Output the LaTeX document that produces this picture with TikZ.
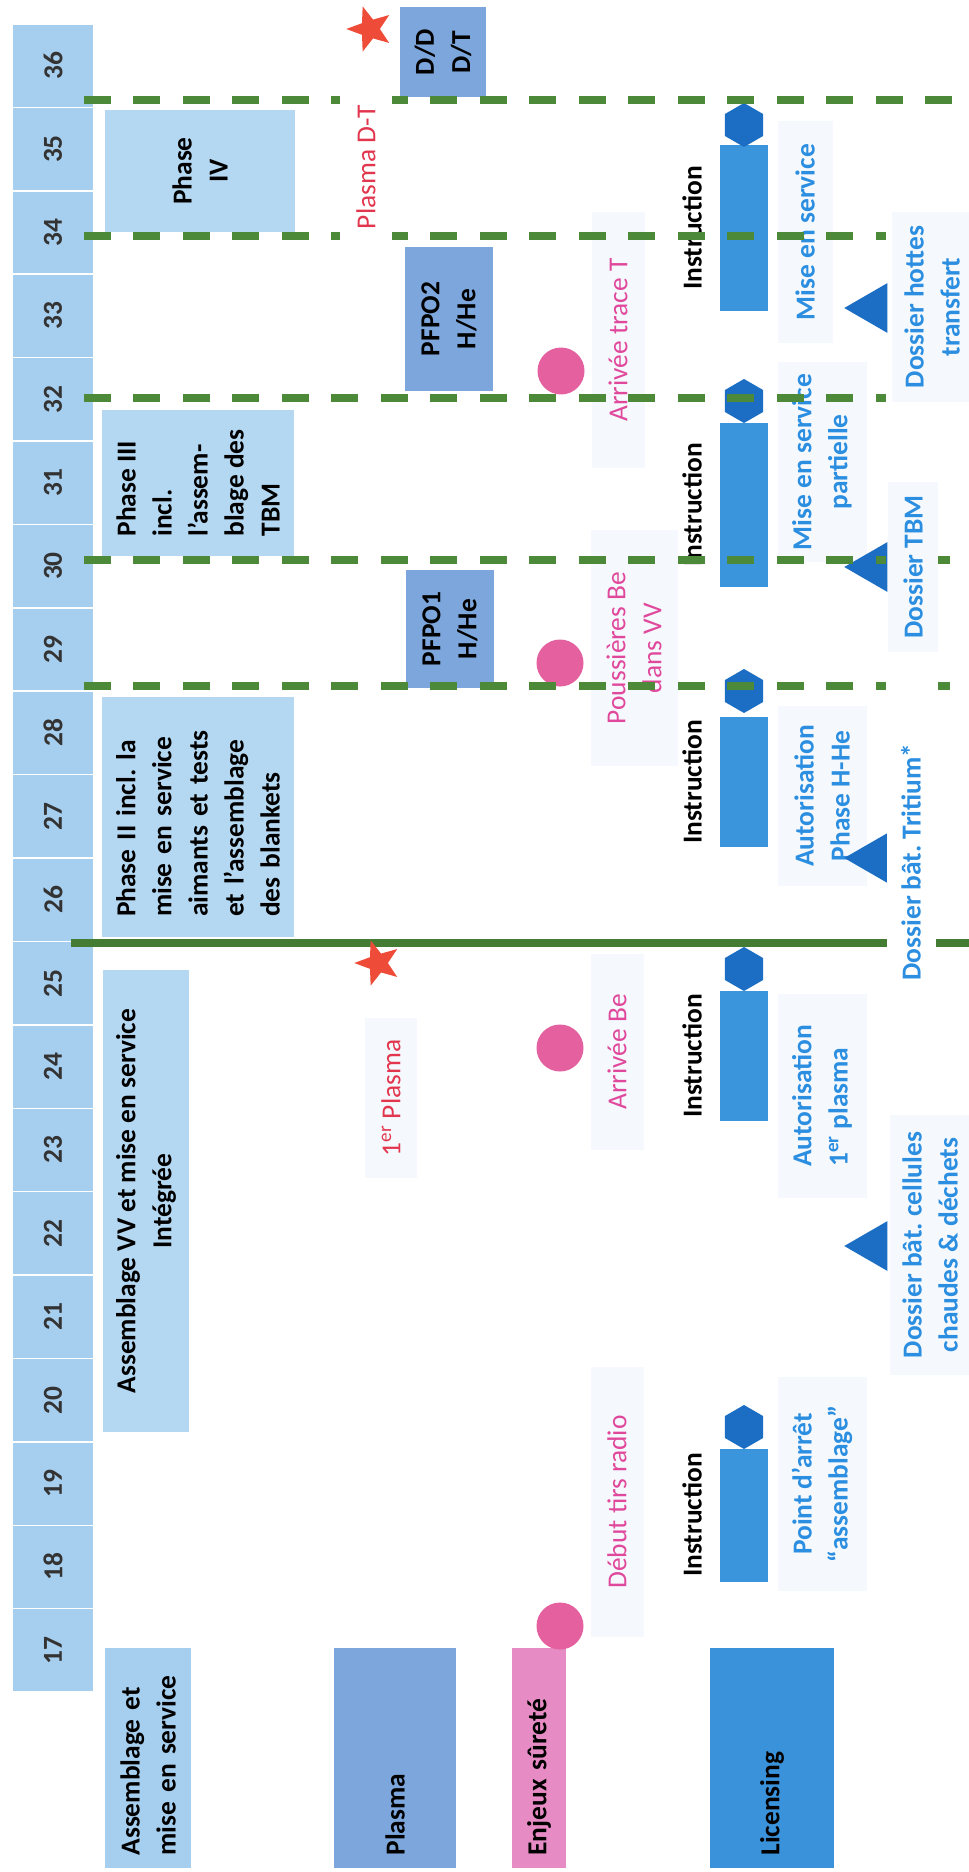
\documentclass[tikz,border=0pt]{standalone}
\usepackage{fontspec}
\setmainfont{Carlito}
\usetikzlibrary{shapes.geometric}
\definecolor{yearblue}{HTML}{A6CEEE}
\definecolor{phaseblue}{HTML}{B5D8F2}
\definecolor{plasmablue}{HTML}{7DA7DC}
\definecolor{surpink}{HTML}{E68BC4}
\definecolor{dotpink}{HTML}{E4609F}
\definecolor{licblue}{HTML}{3A92DB}
\definecolor{barblue}{HTML}{3B95DD}
\definecolor{hexblue}{HTML}{1B6EC3}
\definecolor{txtblue}{HTML}{2B8EE0}
\definecolor{txtpink}{HTML}{E0489C}
\definecolor{txtred}{HTML}{E2364E}
\definecolor{starred}{HTML}{EE4B38}
\definecolor{milegreen}{HTML}{4C8A3A}
\definecolor{pale}{HTML}{F5F9FD}
\newcommand\chartfont{\fontsize{15.6}{20.5}\selectfont}
\frenchspacing
\begin{document}
\begin{tikzpicture}[x=0.02cm, y=-0.02cm,
every node/.style={inner sep=0pt, outer sep=0pt},
yearcell/.style={rotate=90, fill=yearblue, minimum width=1.64cm, minimum height=1.6cm, text=black!80, font=\chartfont\bfseries},
header/.style={rotate=90, minimum width=4.4cm, minimum height=#1, text width=3.9cm, inner xsep=0.25cm, align=left, font=\chartfont\bfseries},
phasebox/.style={rotate=90, fill=phaseblue, align=center, font=\chartfont\bfseries},
plasmabox/.style={rotate=90, fill=plasmablue, align=center, font=\chartfont\bfseries},
dot/.style={circle, fill=dotpink, minimum size=0.94cm},
redstar/.style={star, star points=5, star point ratio=2.4, fill=starred, rotate=90, minimum size=0.95cm},
pinklabel/.style={rotate=90, fill=pale, text=txtpink, align=center, font=\chartfont},
bluelabel/.style={rotate=90, fill=pale, text=txtblue, align=center, font=\chartfont\bfseries},
instr/.style={rotate=90, font=\chartfont\bfseries},
bar/.style={fill=barblue, minimum width=0.96cm},
hexa/.style={regular polygon, regular polygon sides=6, rotate=90, fill=hexblue, minimum size=0.88cm},
tri/.style={regular polygon, regular polygon sides=3, rotate=90, fill=hexblue, minimum size=1.15cm},
milestone/.style={milegreen, line width=0.15cm, dash pattern=on 0.54cm off 0.45cm},
gate/.style={milegreen!90!black, line width=0.15cm}]
\useasboundingbox (0,0) rectangle (969,1872);
\fill[white] (0,0) rectangle (969,1872);

% years
\foreach \yr in {17,...,36}
  \node[yearcell] (yr\yr) at (53,{24+(36.5-\yr)*83.4}) {\yr};

% row headers
\node[header=1.74cm, fill=yearblue] (hdrassy) at (148,1758) {Assemblage et\\mise en service};
\node[header=2.44cm, fill=plasmablue] (hdrplasma) at (395,1758) {Plasma};
\node[header=1.08cm, fill=surpink] (hdrsur) at (539,1758) {Enjeux sûreté};
\node[header=2.48cm, fill=licblue] (hdrlic) at (772,1758) {Licensing};

% assemblage et mise en service
\node[phasebox, minimum width=9.26cm, minimum height=1.74cm] (assyvv) at (146,1201) {Assemblage VV et mise en service\\Intégrée};
\node[phasebox, minimum width=4.8cm, minimum height=3.84cm, text width=4cm, inner xsep=0.4cm, align=left] (phase2) at (198,817)
  {Phase II incl. la\\mise en service\\aimants et tests\\et l’assemblage\\des blankets};
\node[phasebox, minimum width=2.94cm, minimum height=3.84cm, align=left] (phase3) at (198,483) {Phase III\\incl.\\l’assem-\\blage des\\TBM};
\node[phasebox, minimum width=2.44cm, minimum height=3.8cm] (phase4) at (200,171) {Phase\\IV};

% plasma
\node[pinklabel, text=txtred, minimum width=3.2cm, minimum height=1.04cm] (plasma1) at (391,1098) {1\textsuperscript{er} Plasma};
\node[plasmabox, minimum width=2.36cm, minimum height=1.78cm] (pfpo1) at (450,629) {PFPO1\\H/He};
\node[plasmabox, minimum width=2.88cm, minimum height=1.76cm] (pfpo2) at (449,319) {PFPO2\\H/He};
\node[plasmabox, minimum width=1.8cm, minimum height=1.72cm] (ddt) at (443,52) {D/D\\D/T};

% enjeux surete
\node[dot] (be17) at (560,1626) {};
\node[dot] (be24) at (560,1048) {};
\node[dot] (be29) at (560,663) {};
\node[dot] (be32) at (561,371) {};
\node[pinklabel, minimum width=5.4cm, minimum height=1.06cm] (tirs) at (617,1502) {Début tirs radio};
\node[pinklabel, minimum width=3.94cm, minimum height=1.06cm] (arrbe) at (617,1052) {Arrivée Be};
\node[pinklabel, minimum width=4.74cm, minimum height=1.74cm] (pouss) at (634,648) {Poussières Be\\dans VV};
\node[pinklabel, minimum width=5.14cm, minimum height=1.06cm] (trace) at (618,340) {Arrivée trace T};

% licensing
\node[bluelabel, minimum width=4.3cm, minimum height=1.78cm] (arret) at (822,1484) {Point d’arrêt\\“assemblage”};
\node[bluelabel, minimum width=4.1cm, minimum height=1.78cm, align=left] (auto1) at (822,1096) {Autorisation\\1\textsuperscript{er} plasma};
\node[bluelabel, minimum width=3.6cm, minimum height=1.78cm] (auto2) at (822,796) {Autorisation\\Phase H-He};
\node[bluelabel, minimum width=4cm, minimum height=1.78cm] (mesp) at (822,462) {Mise en service\\partielle};
\node[bluelabel, minimum width=4.44cm, minimum height=1.1cm] (mes) at (805,232) {Mise en service};
\node[bluelabel, minimum width=5.2cm, minimum height=1.6cm] (dcell) at (930,1245) {Dossier bât. cellules\\chaudes \& déchets};
\node[bluelabel, minimum width=3.4cm, minimum height=1.0cm] (dtbm) at (913,567) {Dossier TBM};
\node[bluelabel, minimum width=3.8cm, minimum height=1.6cm] (dhot) at (932,307) {Dossier hottes\\transfert};

\foreach \n/\ypos/\len in {1/1515/2.66, 2/1056/2.62, 3/782/2.62, 4/505/3.3, 5/228/3.34} {
  \node[instr] (instr\n) at (692,\ypos) {Instruction};
  \node[bar, minimum height=\len cm] (bar\n) at (744,\ypos) {};
}
\node[hexa] (hex1) at (744,1427) {};
\node[hexa] (hex2) at (744,969) {};
\node[hexa] (hex3) at (744,691) {};
\node[hexa] (hex4) at (744,401) {};
\node[hexa] (hex5) at (744,125) {};

\node[tri] (tri1) at (873,1246) {};
\node[tri] (tri2) at (873,858) {};
\node[tri] (tri3) at (873,567) {};
\node[tri] (tri4) at (873,308) {};

% jalons
\foreach \m/\ypos/\xend in {m36/100/952, m34/236/886, m32/398/886, m30/560/886, m28/686/886} {
  \coordinate (\m a) at (84,\ypos);
  \coordinate (\m b) at (\xend,\ypos);
  \draw[milestone] (\m a) -- (\m b);
}
\foreach \m/\ypos in {m30/560, m28/686} {
  \coordinate (\m c) at (938,\ypos);
  \coordinate (\m d) at (950,\ypos);
  \draw[milegreen, line width=0.15cm] (\m c) -- (\m d);
}
\coordinate (m25a) at (71,943);
\coordinate (m25b) at (969,943);
\draw[gate] (m25a) -- (m25b);

\node[rotate=90, fill=white, text=txtred, font=\chartfont, minimum width=3.1cm, minimum height=1.04cm] (plasmadt) at (366,167) {Plasma D-T};
\node[bluelabel, fill=white, minimum width=4.8cm, minimum height=0.98cm] (dtrit) at (911,862) {Dossier bât. Tritium*};
\node[redstar] (star1) at (370,29) {};
\node[redstar] (star2) at (378,963) {};
\end{tikzpicture}
\end{document}
